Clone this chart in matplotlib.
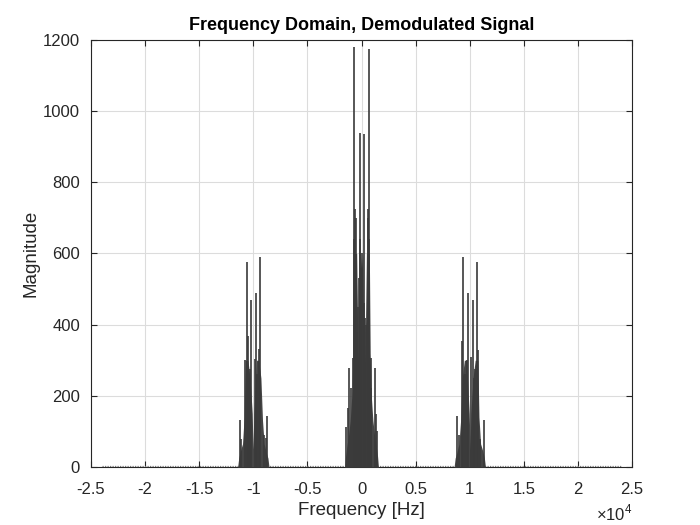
import matplotlib
matplotlib.use("Agg")
import matplotlib.pyplot as plt
import numpy as np

# ---------------- data ----------------
x_ticks = [-25000, -20000, -15000, -10000, -5000, 0, 5000, 10000, 15000, 20000, 25000]
x_tick_labels = ["-2.5", "-2", "-1.5", "-1", "-0.5", "0", "0.5", "1", "1.5", "2", "2.5"]
y_ticks = [0, 200, 400, 600, 800, 1000, 1200]

# spikes of the centre cluster (Hz, magnitude)
center_f = [-660, 660, -185, 185, -580, -540, 560, 610, -720, -100, 40, 700, -60,
            -240, 250, -830, 880, -1200, 1200, -950, 870, -1275, 1290, -1440, 1420,
            -400, 400, -300, 320]
center_m = [1180, 1175, 938, 935, 725, 700, 725, 700, 641, 641, 600, 641, 560,
            530, 461, 306, 306, 278, 278, 222, 222, 166, 150, 113, 100,
            380, 400, 450, 420]

# dense body of the centre cluster (envelope)
center_env_f = [-1560, -1480, -1350, -1200, -1050, -900, -800, -720, -450, -330, -230,
                -120, 0, 120, 230, 330, 450, 720, 800, 900, 1050, 1200, 1350, 1480, 1560]
center_env_m = [0, 30, 60, 90, 130, 200, 320, 600, 600, 320, 270,
                600, 560, 600, 270, 320, 600, 600, 320, 200, 130, 90, 60, 30, 0]

# spikes of the left cluster
left_f = [-10628, -9427, -10222, -9797, -10536, -9519, -10749, -10314, -9852,
          -11275, -8780, -8872, -10420, -9650, -11100, -9000]
left_m = [575, 589, 469, 490, 368, 331, 300, 275, 303,
          132, 143, 81, 250, 260, 80, 90]
left_env_f = [-11450, -11350, -11200, -11000, -10850, -10750, -10500, -10300, -10100,
              -10030, -9950, -9700, -9500, -9300, -9150, -9000, -8800, -8650, -8550]
left_env_m = [0, 25, 45, 65, 140, 300, 300, 250, 150,
              50, 150, 300, 300, 250, 130, 65, 40, 25, 0]

# spikes of the right cluster
right_f = [9400, 10628, 9800, 10260, 9300, 10720, 10070, 9700, 10500,
           8820, 11280, 9050, 10950, 9580, 10380]
right_m = [589, 576, 488, 469, 355, 329, 310, 300, 275,
           143, 132, 90, 80, 260, 250]
right_env_f = [8550, 8650, 8800, 9000, 9150, 9300, 9500, 9700, 9950,
               10030, 10100, 10300, 10500, 10750, 10850, 11000, 11200, 11350, 11450]
right_env_m = [0, 25, 40, 65, 130, 250, 300, 300, 150,
               50, 150, 250, 300, 300, 140, 65, 45, 25, 0]

noise_f = [-24000, 24000]
noise_m = [2, 2]

# ---------------- style ----------------
plt.rcParams["font.family"] = ["Liberation Sans", "DejaVu Sans"]
plt.rcParams["mathtext.fontset"] = "custom"
plt.rcParams["mathtext.rm"] = "Liberation Sans"
axc = "#262626"

fig = plt.figure(figsize=(7, 5.25), dpi=100)
ax = fig.add_axes([0.13, 0.1105, 0.773, 0.8133])

line_col = "#3a3a3a"
ax.plot(noise_f, noise_m, color="#808080", lw=0.9, ls=(0, (1, 1)), zorder=2)
for ef, em in [(center_env_f, center_env_m), (left_env_f, left_env_m), (right_env_f, right_env_m)]:
    ax.fill_between(ef, 0, em, color="#454545", lw=0, zorder=3)
for sf, sm in [(center_f, center_m), (left_f, left_m), (right_f, right_m)]:
    ax.vlines(sf, 0, sm, color=line_col, lw=1.2, zorder=4)

ax.set_xlim(-25000, 25000)
ax.set_ylim(0, 1200)
ax.set_xticks(x_ticks)
ax.set_xticklabels(x_tick_labels)
ax.set_yticks(y_ticks)
ax.grid(True, color="#dcdcdc", lw=0.8)
ax.set_axisbelow(True)
for s in ax.spines.values():
    s.set_color(axc)
    s.set_linewidth(0.8)
ax.tick_params(direction="in", length=4, width=0.8, colors=axc, labelsize=12,
               top=True, right=True)
ax.tick_params(axis="x", pad=10.5)
ax.tick_params(axis="y", pad=8)

ax.set_title("Frequency Domain, Demodulated Signal", fontsize=13, fontweight="bold",
             color="black", pad=7)
ax.set_xlabel("Frequency [Hz]", fontsize=13.5, color=axc, labelpad=4)
ax.set_ylabel("Magnitude", fontsize=13.5, color=axc, labelpad=2)
ax.text(1.0, -0.108, r"$\times10^{4}$", transform=ax.transAxes, ha="right", va="center",
        fontsize=12, color=axc)

fig.savefig("out.png", dpi=100)
